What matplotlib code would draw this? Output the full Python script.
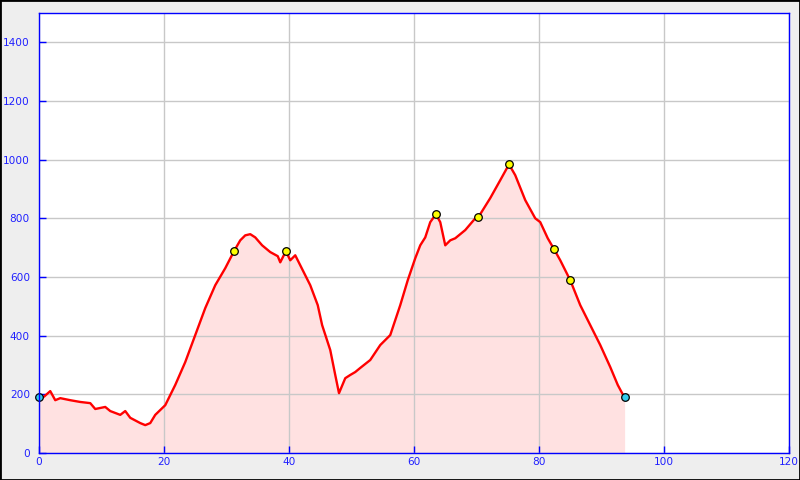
import matplotlib
matplotlib.use("Agg")
import matplotlib.pyplot as plt
from matplotlib.patches import Rectangle

plt.rcParams["font.family"] = ["DejaVu Sans"]
plt.rcParams["xtick.labelsize"] = 7.6
plt.rcParams["ytick.labelsize"] = 7.6

# distance (km) and elevation (m)
dist = [0, 0.8, 1.8, 2.6, 3.4, 5.0, 6.6, 8.2, 9.0, 10.6, 11.4, 13.0, 13.8, 14.6,
        16.2, 17.0, 17.8, 18.6, 20.2, 21.8, 23.4, 25.0, 26.6, 28.2, 29.8, 31.2,
        32.2, 33.0, 33.8, 34.6, 35.7, 37.0, 38.2, 38.6, 39.5, 40.2, 41.0, 41.8,
        43.4, 44.6, 45.3, 46.6, 47.4, 48.0, 49.0, 49.8, 50.6, 51.4, 53.0, 54.6,
        56.2, 57.8, 59.0, 60.2, 61.0, 61.8, 62.6, 63.5, 64.2, 65.0, 65.8, 66.6,
        68.2, 69.8, 70.3, 72.2, 73.8, 75.2, 76.2, 77.8, 79.4, 80.2, 81.4, 82.4,
        83.4, 85.0, 86.6, 88.2, 89.8, 91.4, 92.6, 93.3, 93.7]
elev = [190, 192, 211, 180, 187, 180, 174, 170, 150, 157, 143, 130, 143, 120,
        102, 95, 102, 130, 163, 232, 310, 402, 494, 572, 630, 688,
        725, 742, 746, 735, 708, 685, 671, 650, 688, 657, 674, 640,
        572, 504, 436, 351, 266, 204, 255, 266, 276, 290, 317, 368,
        402, 504, 589, 664, 708, 735, 787, 814, 787, 708, 725, 732,
        760, 800, 804, 869, 930, 984, 947, 862, 800, 787, 732, 695,
        657, 589, 504, 436, 368, 293, 232, 204, 190]

# waypoints
wp_x = [31.2, 39.5, 63.5, 70.3, 75.2, 82.4, 85.0]
wp_y = [688, 688, 814, 804, 984, 695, 589]
end_x = [0, 93.7]
end_y = [190, 190]

x_ticks = [0, 20, 40, 60, 80, 100, 120]
y_ticks = [0, 200, 400, 600, 800, 1000, 1200, 1400]

fig = plt.figure(figsize=(8, 4.8), dpi=100, facecolor="#eeeeee")
fig.patches.append(Rectangle((0, 0), 1, 1, transform=fig.transFigure,
                             fill=False, edgecolor="black", linewidth=2))
ax = fig.add_axes([39 / 800, 27 / 480, 750 / 800, 440 / 480])

ax.fill_between(dist, elev, 0, color="#ffe1e1", linewidth=0, zorder=1)
ax.plot(dist, elev, color="red", linewidth=1.7, zorder=3)
ax.scatter(wp_x, wp_y, s=30, color="yellow", edgecolors="black", linewidths=0.9, zorder=4)
ax.scatter(end_x, end_y, s=30, color="#33ccee", edgecolors="black", linewidths=0.9,
           zorder=4, clip_on=False)

ax.set_xlim(0, 120)
ax.set_ylim(0, 1500)
ax.set_xticks(x_ticks)
ax.set_yticks(y_ticks)
ax.grid(True, color="#c8c8c8", linewidth=1)
for line in ax.get_xgridlines() + ax.get_ygridlines():
    line.set_zorder(2)

for s in ax.spines.values():
    s.set_color("blue")
    s.set_linewidth(1)
    s.set_zorder(5)
ax.tick_params(colors="blue", labelcolor="#2020ff", direction="in", length=5, width=1)
ax.tick_params(axis="y", pad=6.5)
ax.tick_params(axis="x", pad=3)

fig.savefig("out.png", dpi=100, facecolor=fig.get_facecolor())
